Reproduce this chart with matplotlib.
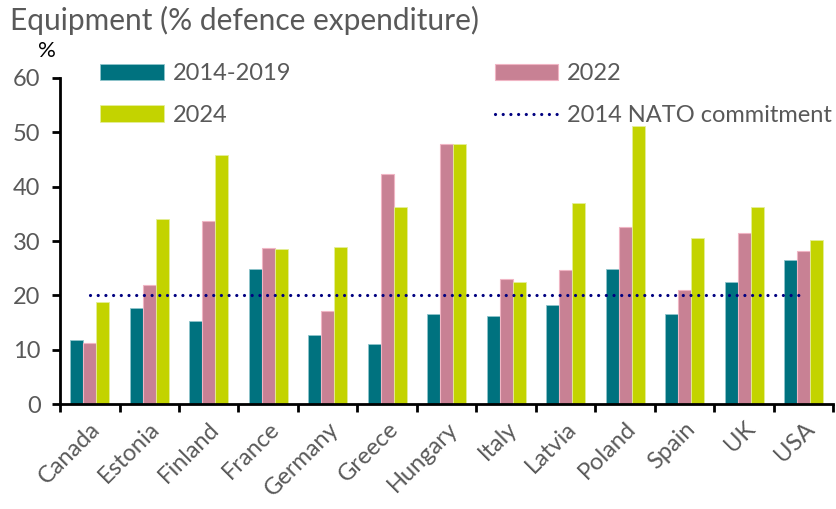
import numpy as np
import matplotlib.pyplot as plt
from matplotlib.ticker import FixedLocator

countries = ["Canada", "Estonia", "Finland", "France", "Germany", "Greece", "Hungary",
             "Italy", "Latvia", "Poland", "Spain", "UK", "USA"]
avg_2014_2019 = [11.8, 17.6, 15.2, 24.8, 12.8, 11.0, 16.5, 16.2, 18.2, 24.8, 16.5, 22.4, 26.5]
val_2022 = [11.3, 22.0, 33.6, 28.8, 17.2, 42.4, 47.8, 23.0, 24.7, 32.6, 21.0, 31.5, 28.1]
val_2024 = [18.7, 34.0, 45.8, 28.5, 28.9, 36.3, 47.8, 22.4, 37.0, 51.2, 30.5, 36.3, 30.2]
nato_commitment = 20

grey = "#595959"
plt.rcParams["font.family"] = ["Lato", "DejaVu Sans"]

fig = plt.figure(figsize=(8.37, 5.09), dpi=100)
ax = fig.add_axes([0.0717, 0.206, 0.924, 0.641])

x = np.arange(len(countries))
w = 0.22
b1 = ax.bar(x - w, avg_2014_2019, w, color="#00727F", edgecolor="#8fc5cc", linewidth=0.6, label="2014-2019")
b2 = ax.bar(x, val_2022, w, color="#C88194", edgecolor="#f0b5c4", linewidth=0.8, label="2022")
b3 = ax.bar(x + w, val_2024, w, color="#C3D300", edgecolor="#e4ee99", linewidth=0.6, label="2024")
ln, = ax.plot([x[0], x[-1]], [nato_commitment] * 2, color="#000080", lw=2.3,
              linestyle=(0, (0.01, 2.4)), dash_capstyle="round", label="2014 NATO commitment")

ax.set_xlim(-0.5, len(countries) - 0.5)
ax.set_ylim(0, 60)
ax.set_yticks(range(0, 61, 10))
ax.set_xticks(x)
ax.set_xticklabels(countries, rotation=45, ha="right", rotation_mode="anchor")
ax.xaxis.set_minor_locator(FixedLocator(np.arange(-0.5, len(countries), 1)))
ax.tick_params(axis="x", which="major", length=0, pad=10, labelsize=17, labelcolor=grey)
ax.tick_params(axis="x", which="minor", length=6, width=2, color="black")
ax.tick_params(axis="y", length=6, width=2, labelsize=17, labelcolor=grey, pad=8)

for s in ["top", "right"]:
    ax.spines[s].set_visible(False)
for s in ["left", "bottom"]:
    ax.spines[s].set_linewidth(2)

ax.legend(handles=[b1, b3, b2, ln], ncol=2, frameon=False, fontsize=17,
          labelcolor=grey, loc="upper left", bbox_to_anchor=(0.052, 1.045),
          borderaxespad=0, borderpad=0,
          handlelength=2.7, handleheight=0.7, handletextpad=0.38,
          columnspacing=8.6, labelspacing=0.88)

fig.text(0.012, 0.96, "Equipment (% defence expenditure)", fontsize=21.5, color=grey, va="center")
fig.text(0.045, 0.9, "%", fontsize=16, color="black", va="center")

fig.savefig("out.png", dpi=100)
